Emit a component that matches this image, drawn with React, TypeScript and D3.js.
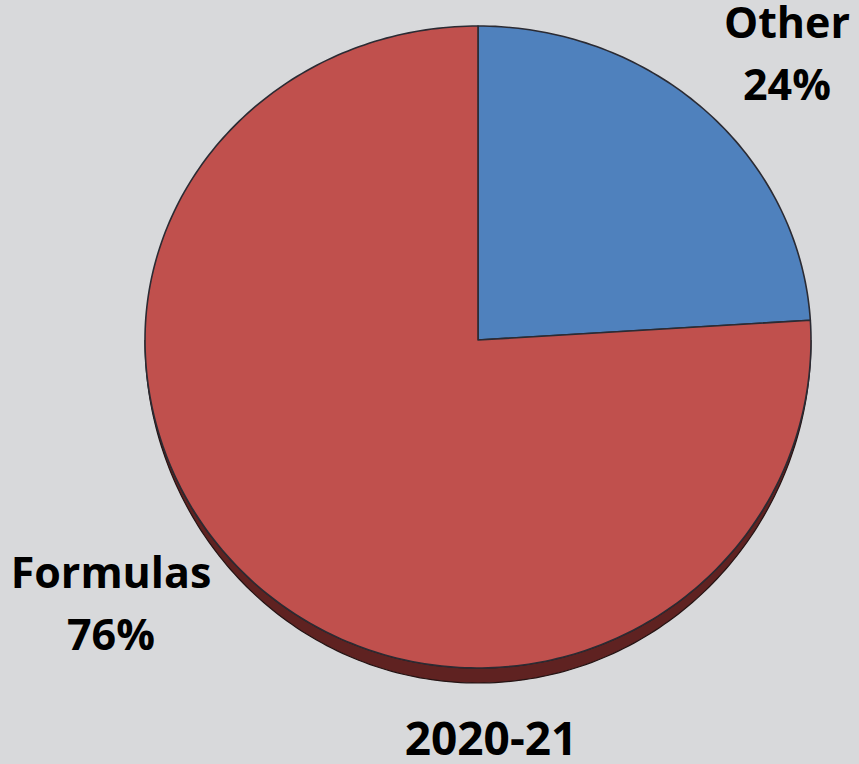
import React from "react";
import * as d3 from "d3";

const categories = ["Other", "Formulas"];
const values = [24, 76];
const percentLabels = ["24%", "76%"];
const title = "2020-21";

const colors = ["#4f81bd", "#c0504d"];
const sideColors = ["#2a4569", "#5f2221"];

const W = 859;
const H = 764;
const cx = 478;
const cy = 340;
const rx = 333;
const ryTop = 314;
const ryBot = 328;
const depth = 15;

function pt(a: number, extra = 0): [number, number] {
  const c = Math.cos(a);
  const ry = c > 0 ? ryTop : ryBot;
  const x = cx + rx * Math.sin(a);
  const y = cy - ry * c + extra * Math.max(0, -c);
  return [x, y];
}

function arcPoints(a0: number, a1: number, extra = 0) {
  const n = Math.max(2, Math.ceil(((a1 - a0) * 180) / Math.PI));
  const pts: [number, number][] = [];
  for (let i = 0; i <= n; i++) pts.push(pt(a0 + ((a1 - a0) * i) / n, extra));
  return pts;
}

const labelPos: [number, number][] = [
  [787, 38],
  [111, 588],
];

export default function App() {
  const pie = d3.pie<number>().sort(null).value((d) => d);
  const arcs = pie(values);
  const line = d3.line();

  const sides: { d: string; i: number }[] = [];
  arcs.forEach((a, i) => {
    const s0 = Math.max(a.startAngle, Math.PI / 2);
    const s1 = Math.min(a.endAngle, (3 * Math.PI) / 2);
    if (s1 > s0) {
      const top = arcPoints(s0, s1);
      const bot = arcPoints(s0, s1, depth).reverse();
      sides.push({ d: line([...top, ...bot])! + "Z", i });
    }
  });

  return (
    <svg width={W} height={H} style={{ position: "absolute", left: 0, top: 0 }}>
      <rect x={0} y={0} width={W} height={H} fill="#d8d9db" />
      {sides.map((s, k) => (
        <path key={k} d={s.d} fill={sideColors[s.i]} stroke="#241414" strokeWidth={1.2} />
      ))}
      {arcs.map((a, i) => {
        const pts: [number, number][] = [[cx, cy], ...arcPoints(a.startAngle, a.endAngle)];
        return (
          <path
            key={i}
            d={line(pts)! + "Z"}
            fill={colors[i]}
            stroke="#2b2b33"
            strokeWidth={1.6}
            strokeLinejoin="round"
          />
        );
      })}
      {categories.map((c, i) => (
        <text
          key={c}
          x={labelPos[i][0]}
          y={labelPos[i][1]}
          textAnchor="middle"
          fontFamily="'Open Sans', sans-serif"
          fontWeight="bold"
          fontSize={43}
          fill="#000"
        >
          <tspan x={labelPos[i][0]} dy={0}>{c}</tspan>
          <tspan x={labelPos[i][0]} dy={62}>{percentLabels[i]}</tspan>
        </text>
      ))}
      <text
        x={491}
        y={755}
        textAnchor="middle"
        fontFamily="'Open Sans', sans-serif"
        fontWeight="bold"
        fontSize={46}
        fill="#000"
      >
        {title}
      </text>
    </svg>
  );
}
